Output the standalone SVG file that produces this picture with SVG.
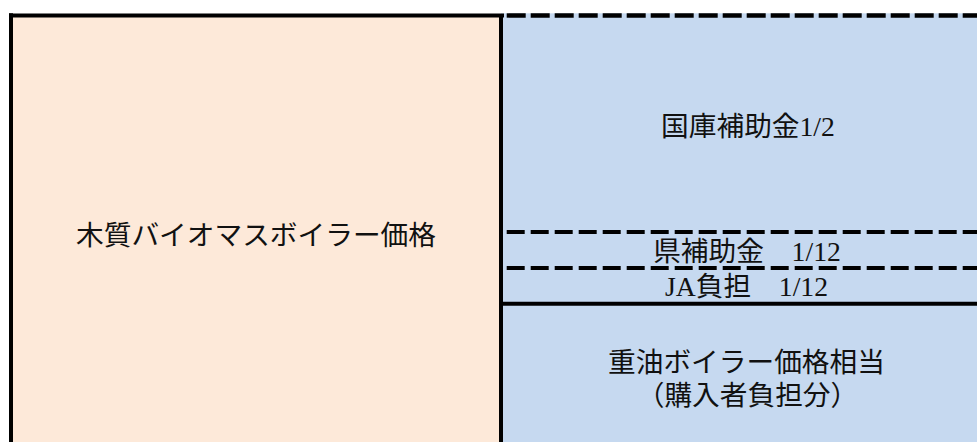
<svg xmlns="http://www.w3.org/2000/svg" width="977" height="442" viewBox="0 0 977 442">
<style>
.t{font-family:"Liberation Serif","Noto Sans CJK JP",serif;font-size:27.7px;fill:#111;text-anchor:middle;dominant-baseline:central}
.solid{stroke:#000;stroke-width:4;fill:none}
.dash{stroke:#000;stroke-width:4;fill:none;stroke-dasharray:18 6}
.dashTop{stroke:#000;stroke-width:4.4;fill:none;stroke-dasharray:19 5}
</style>
<rect width="977" height="442" fill="#ffffff"/>
<g id="left-node">
<rect x="11" y="15.5" width="490" height="440" fill="#FDE9D9"/>
<text class="t" x="256" y="235.5">木質バイオマスボイラー価格</text>
</g>
<g id="right-area">
<rect x="501" y="13.3" width="476" height="430" fill="#C6D9F0"/>
</g>
<g id="national-subsidy">
<text class="t" x="748" y="126.5">国庫補助金1/2</text>
</g>
<g id="prefecture-subsidy">
<text class="t" x="747" y="251">県補助金　1/12</text>
</g>
<g id="ja-share">
<text class="t" x="746.5" y="286.5">JA負担　1/12</text>
</g>
<g id="oil-boiler">
<text class="t" x="746.5" y="362.5">重油ボイラー価格相当</text>
<text class="t" x="747.5" y="395.5">（購入者負担分）</text>
</g>
<g id="connectors">
<line class="solid" x1="9" y1="15.5" x2="504" y2="15.5" stroke-width="4.4"/>
<line class="solid" x1="11" y1="13.3" x2="11" y2="442"/>
<line class="solid" x1="501" y1="15.5" x2="501" y2="442" stroke-width="3.5"/>
<line class="dashTop" x1="506.7" y1="15.5" x2="977" y2="15.5"/>
<line class="dash" x1="506.7" y1="232" x2="977" y2="232"/>
<line class="dash" x1="506.7" y1="268" x2="977" y2="268"/>
<line class="solid" x1="503" y1="303.7" x2="977" y2="303.7"/>
</g>
</svg>
